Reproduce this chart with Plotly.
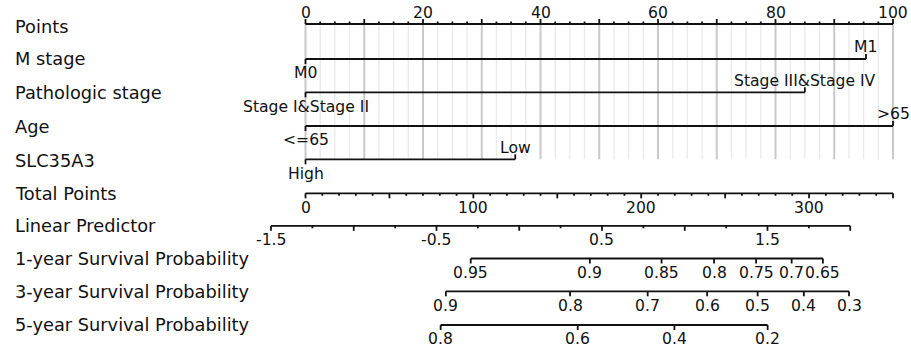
import numpy as np
import plotly.graph_objects as go

# ---------------- nomogram content ----------------
ROW_LABELS = ["Points", "M stage", "Pathologic stage", "Age", "SLC35A3",
              "Total Points", "Linear Predictor",
              "1-year Survival Probability", "3-year Survival Probability",
              "5-year Survival Probability"]

POINTS_LABELS = [0, 20, 40, 60, 80, 100]

M_STAGE_LEVELS = ["M0", "M1"]
M_STAGE_POINTS = [0, 95.4]
PATH_STAGE_LEVELS = ["Stage I&Stage II", "Stage III&Stage IV"]
PATH_STAGE_POINTS = [0, 85.0]
AGE_LEVELS = ["<=65", ">65"]
AGE_POINTS = [0, 100]
SLC35A3_LEVELS = ["High", "Low"]
SLC35A3_POINTS = [0, 35.7]

TOTAL_POINTS_LABELS = [0, 100, 200, 300]
TOTAL_POINTS_MAX = 350

LP_LABELS = [-1.5, -0.5, 0.5, 1.5]
LP_MIN, LP_MAX = -1.5, 2.0

SURV_1Y = [0.95, 0.9, 0.85, 0.8, 0.75, 0.7, 0.65]
SURV_3Y = [0.9, 0.8, 0.7, 0.6, 0.5, 0.4, 0.3]
SURV_5Y = [0.8, 0.6, 0.4, 0.2]

# model scaling: linear predictor at 0 points, points per LP unit,
# total points per single-variable point, log baseline cumulative hazard
LP_AT_ZERO = -1.2915
POINTS_PER_LP = 28.17
TOTAL_PER_POINT = 3.5
LOG_H0 = {1: -2.677, 3: -1.807, 5: -1.025}

# ---------------- layout constants ----------------
W, H = 911, 350
X0_PX, X100_PX = 305.5, 893.0          # pixel position of 0 and 100 points
PX_PER_PT = (X100_PX - X0_PX) / 100.0
X_RANGE = [-X0_PX / PX_PER_PT, (W - X0_PX) / PX_PER_PT]

ROW_Y = [24, 59, 92.3, 126, 159.3, 193.3, 225.8, 258.5, 291.3, 325]
LABEL_Y_SHIFT = [2, -1, 0, 0, 1, 0, 0, 0, 0, -1]

FONT = "DejaVu Sans"
ROW_FONT_SIZE = 17.8
TICK_FONT_SIZE = 15.6
TEXT_COLOR = "#111111"
LINE_COLOR = "#111111"
LINE_W = 1.8
TICK_LONG = 5.0
TICK_SHORT = 2.5
GAP_BELOW = 14.3
GAP_ABOVE = 11.8


def total_to_pts(t):
    return np.asarray(t, dtype=float) / TOTAL_PER_POINT


def lp_to_pts(lp):
    return (np.asarray(lp, dtype=float) - LP_AT_ZERO) * POINTS_PER_LP


def surv_to_pts(s, year):
    lp = np.log(-np.log(np.asarray(s, dtype=float))) - LOG_H0[year]
    return lp_to_pts(lp)


fig = go.Figure()
annotations = []


def add_segments(segs, color=LINE_COLOR, width=LINE_W):
    xs, ys = [], []
    for (xa, ya, xb, yb) in segs:
        xs += [xa, xb, None]
        ys += [ya, yb, None]
    fig.add_trace(go.Scatter(x=xs, y=ys, mode="lines", hoverinfo="skip",
                             line=dict(color=color, width=width)))


def add_text(x, y, text, size=TICK_FONT_SIZE):
    annotations.append(dict(x=x, y=y, xref="x", yref="y", text=text,
                            showarrow=False, xanchor="center", yanchor="middle",
                            font=dict(family=FONT, size=size, color=TEXT_COLOR)))


# ---- vertical reference grid over the variable rows ----
grid_minor = np.arange(0, 100.01, 2.5)
grid_major = np.arange(0, 100.01, 10)
add_segments([(g, ROW_Y[0], g, ROW_Y[4]) for g in grid_minor if g % 10 != 0],
             color="#ebebeb", width=1.4)
add_segments([(g, ROW_Y[0], g, ROW_Y[4]) for g in grid_major],
             color="#c9c9c9", width=2.0)

# ---- Points axis (ticks upward, labels above) ----
y = ROW_Y[0]
segs = [(0, y, 100, y)]
for t in np.arange(0, 100.01, 2.5):
    ln = TICK_LONG if t % 10 == 0 else TICK_SHORT
    segs.append((t, y, t, y - ln))
add_segments(segs)
for v in POINTS_LABELS:
    add_text(v, y - GAP_ABOVE + 1, str(v))

# ---- categorical variables ----
variables = [
    (M_STAGE_LEVELS, M_STAGE_POINTS),
    (PATH_STAGE_LEVELS, PATH_STAGE_POINTS),
    (AGE_LEVELS, AGE_POINTS),
    (SLC35A3_LEVELS, SLC35A3_POINTS),
]
for i, (levels, pts) in enumerate(variables):
    y = ROW_Y[i + 1]
    segs = [(min(pts), y, max(pts), y)]
    for j, (lev, p) in enumerate(zip(levels, pts)):
        below = (j % 2 == 0)           # first level below the line, next above
        segs.append((p, y, p, y + (TICK_LONG if below else -TICK_LONG)))
        add_text(p, y + (GAP_BELOW if below else -GAP_ABOVE), lev)
    add_segments(segs)

# ---- Total Points axis ----
y = ROW_Y[5]
segs = [(0, y, float(total_to_pts(TOTAL_POINTS_MAX)), y)]
for t in np.arange(0, TOTAL_POINTS_MAX + 0.1, 10):
    ln = TICK_LONG if t % 50 == 0 else TICK_SHORT
    xp = float(total_to_pts(t))
    segs.append((xp, y, xp, y + ln))
add_segments(segs)
for v in TOTAL_POINTS_LABELS:
    add_text(float(total_to_pts(v)), y + GAP_BELOW, str(v))

# ---- Linear Predictor axis ----
y = ROW_Y[6]
segs = [(float(lp_to_pts(LP_MIN)), y, float(lp_to_pts(LP_MAX)), y)]
for k, lp in enumerate(np.arange(LP_MIN, LP_MAX + 1e-9, 0.25)):
    ln = TICK_LONG if k % 2 == 0 else TICK_SHORT
    xp = float(lp_to_pts(lp))
    segs.append((xp, y, xp, y + ln))
add_segments(segs)
for v in LP_LABELS:
    add_text(float(lp_to_pts(v)), y + GAP_BELOW, f"{v:g}")

# ---- survival probability axes ----
for row, (vals, year) in zip([7, 8, 9], [(SURV_1Y, 1), (SURV_3Y, 3), (SURV_5Y, 5)]):
    y = ROW_Y[row]
    xs = surv_to_pts(vals, year)
    segs = [(float(xs.min()), y, float(xs.max()), y)]
    for xp in xs:
        segs.append((float(xp), y, float(xp), y + TICK_LONG))
    add_segments(segs)
    for v, xp in zip(vals, xs):
        add_text(float(xp), y + GAP_BELOW, f"{v:g}")

# ---- row labels ----
for lab, y, dy in zip(ROW_LABELS, ROW_Y, LABEL_Y_SHIFT):
    annotations.append(dict(x=13 / W, y=y + dy, xref="paper", yref="y", text=lab,
                            showarrow=False, xanchor="left", yanchor="middle",
                            font=dict(family=FONT, size=ROW_FONT_SIZE, color=TEXT_COLOR)))

fig.update_layout(
    width=W, height=H,
    margin=dict(l=0, r=0, t=0, b=0),
    paper_bgcolor="white", plot_bgcolor="white",
    showlegend=False,
    xaxis=dict(range=X_RANGE, visible=False, fixedrange=True),
    yaxis=dict(range=[H, 0], visible=False, fixedrange=True),
    annotations=annotations,
)

fig.write_html("out.html")
